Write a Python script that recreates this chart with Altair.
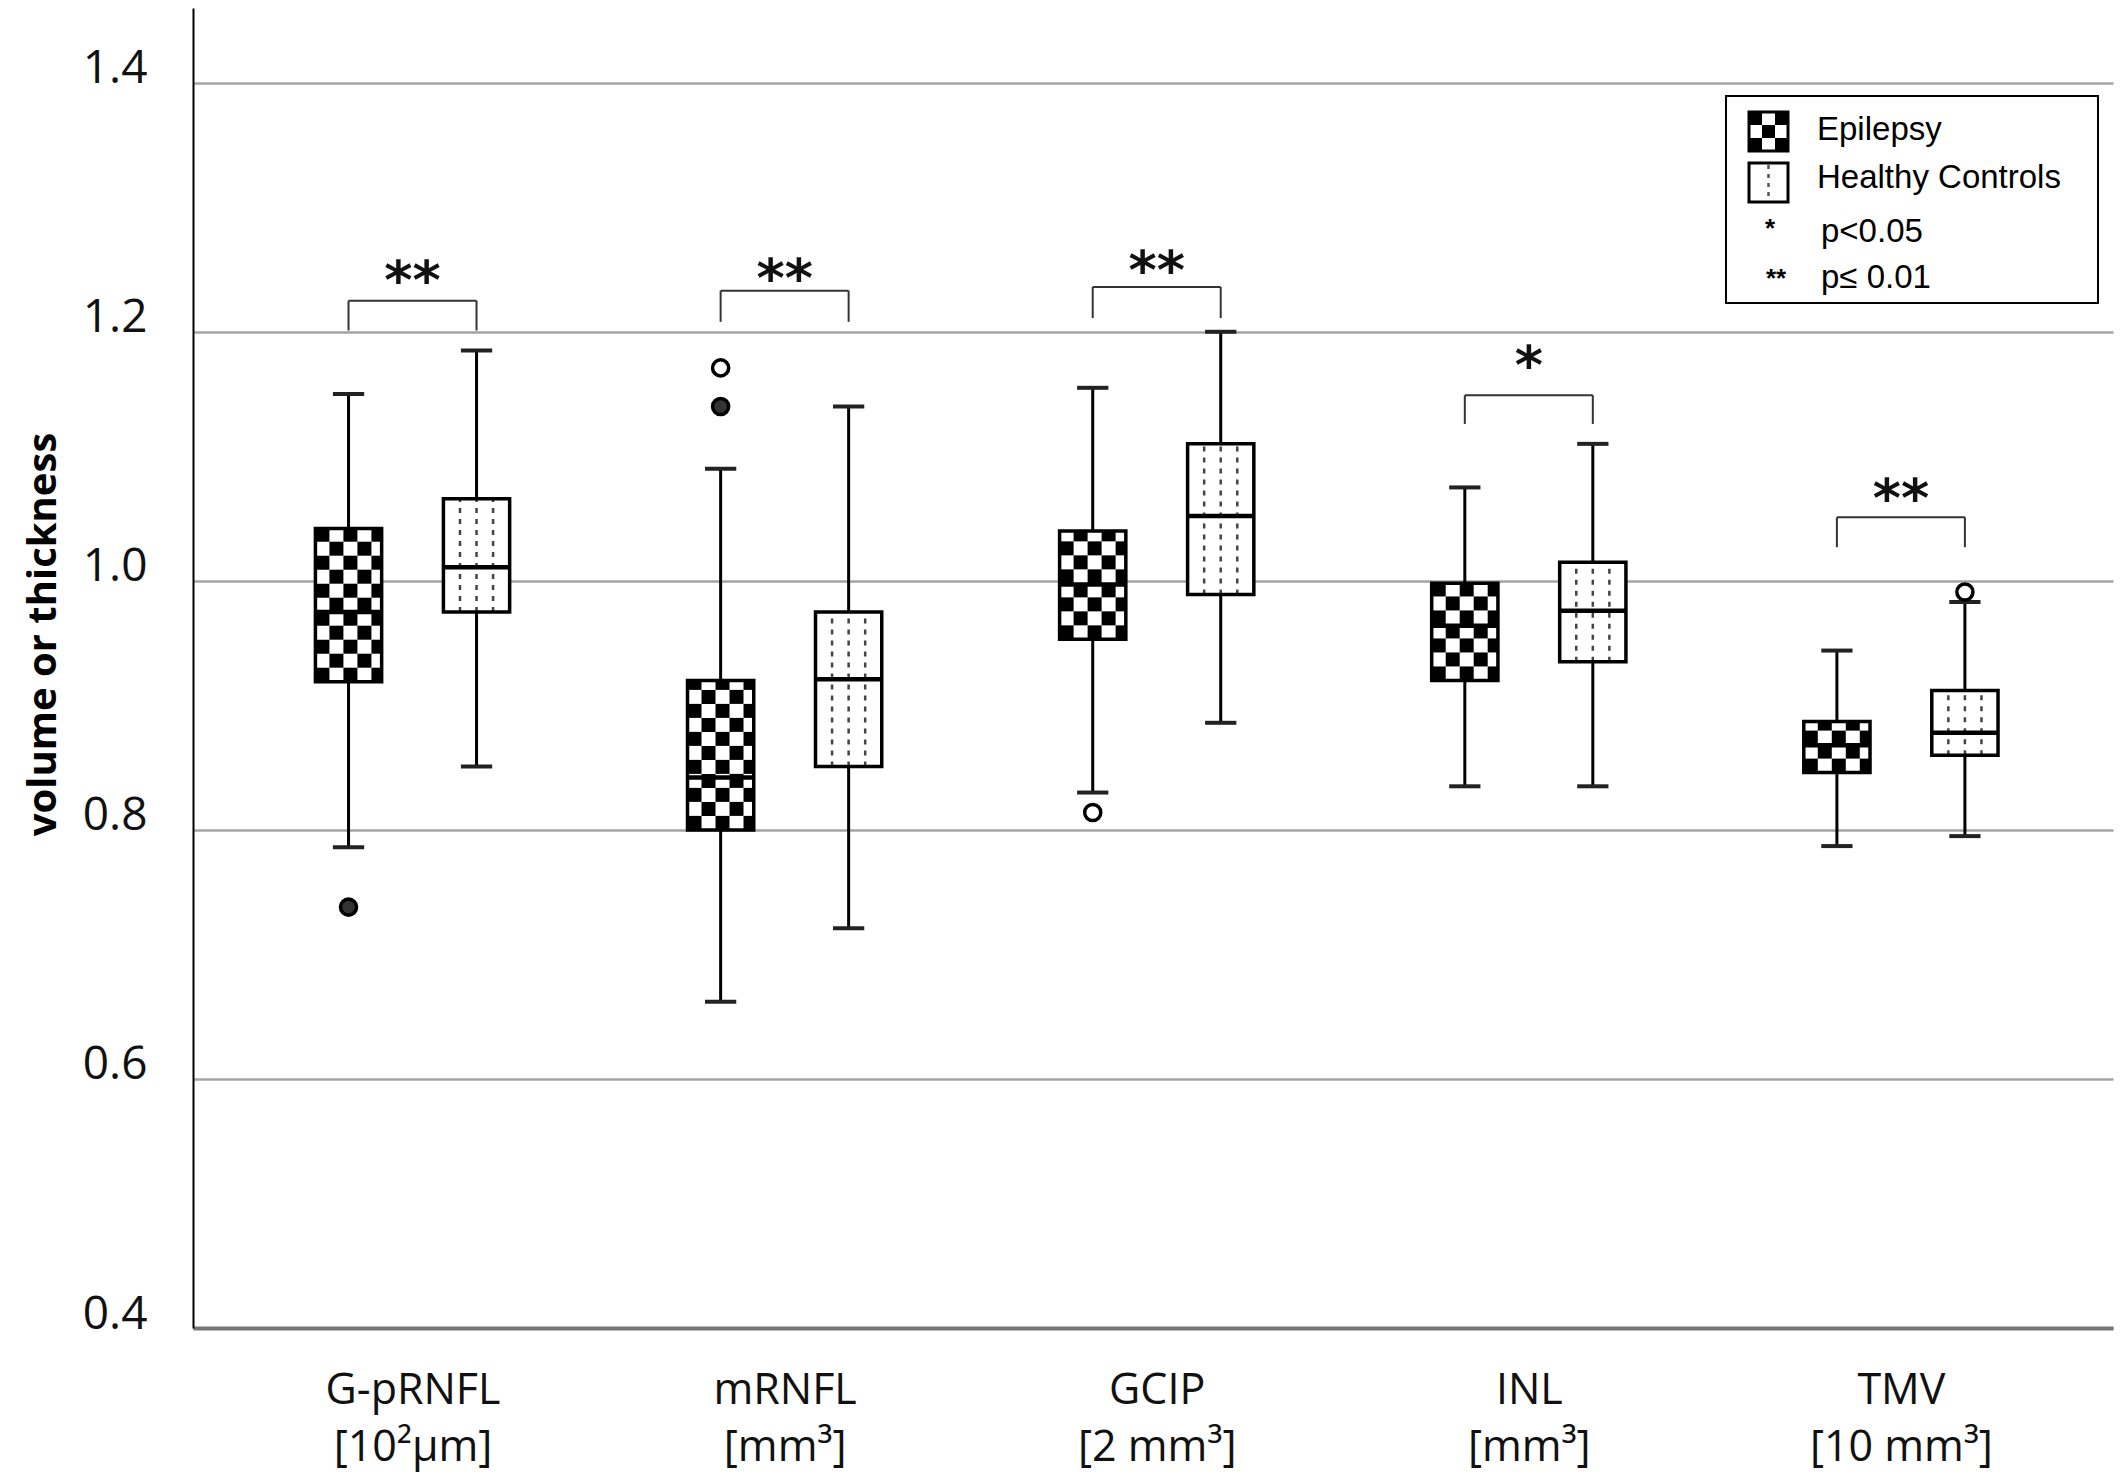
import math
import altair as alt
import pandas as pd

# ---------------- data ----------------
categories = ["G-pRNFL", "mRNFL", "GCIP", "INL", "TMV"]
unit_labels = ["[10²μm]", "[mm³]", "[2 mm³]", "[mm³]", "[10 mm³]"]

epi_low = [0.786, 0.662, 0.830, 0.835, 0.787]
epi_q1 = [0.919, 0.800, 0.953, 0.920, 0.846]
epi_med = [0.975, 0.842, 0.997, 0.964, 0.868]
epi_q3 = [1.042, 0.920, 1.040, 0.998, 0.887]
epi_high = [1.150, 1.090, 1.155, 1.075, 0.944]

hc_low = [0.851, 0.721, 0.886, 0.835, 0.795]
hc_q1 = [0.975, 0.851, 0.989, 0.935, 0.860]
hc_med = [1.011, 0.921, 1.052, 0.976, 0.878]
hc_q3 = [1.066, 0.975, 1.110, 1.015, 0.912]
hc_high = [1.185, 1.140, 1.200, 1.110, 0.983]

outlier_category = ["G-pRNFL", "mRNFL", "mRNFL", "GCIP", "TMV"]
outlier_group = ["Epilepsy", "Epilepsy", "Epilepsy", "Epilepsy", "Healthy Controls"]
outlier_value = [0.738, 1.171, 1.140, 0.814, 0.991]
outlier_style = ["filled", "open", "filled", "open", "open"]

sig_marks = ["**", "**", "**", "*", "**"]
bracket_foot = [1.201, 1.208, 1.211, 1.126, 1.027]
bracket_top = [1.225, 1.233, 1.236, 1.149, 1.051]
sig_y = [1.252, 1.254, 1.260, 1.184, 1.077]

legend_entries = ["Epilepsy", "Healthy Controls"]
legend_sig_symbols = ["*", "**"]
legend_sig_texts = ["p<0.05", "p≤ 0.01"]

# ---------------- layout ----------------
W, H = 1920, 1320
X_DOMAIN = [-0.59, 4.57]
Y_DOMAIN = [0.4, 1.46]
HALF_W = 0.089
GROUP_OFF = 0.172
CAP_HALF = 0.042
X_PER_PX = (X_DOMAIN[1] - X_DOMAIN[0]) / W
Y_PER_PX = (Y_DOMAIN[1] - Y_DOMAIN[0]) / H
CELL_PX = 14
CELL_W = CELL_PX * X_PER_PX
CELL_H = CELL_PX * Y_PER_PX


def px2x(px):
    return X_DOMAIN[0] + px * X_PER_PX


def py2y(py):
    return Y_DOMAIN[1] - py * Y_PER_PX


xs = alt.Scale(domain=X_DOMAIN, nice=False, zero=False)
ys = alt.Scale(domain=Y_DOMAIN, nice=False, zero=False)

# ---------------- axes ----------------
label_expr = "[" + ",".join("['%s','%s']" % (c, u) for c, u in zip(categories, unit_labels)) + "][round(datum.value)]"
x_axis = alt.Axis(values=[0, 1, 2, 3, 4], labelExpr=label_expr, grid=False, ticks=False,
                  domainColor="#777777", domainWidth=4, labelFont="Open Sans",
                  labelFontSize=43, labelColor="#111111", labelPadding=41, labelBaseline="top",
                  labelLineHeight=57, labelFlush=False, labelOverlap=False, labelLimit=0,
                  title="")
y_axis = alt.Axis(values=[0.4, 0.6, 0.8, 1.0, 1.2, 1.4], format=".1f", grid=True,
                  gridColor="#a4a4a4", gridWidth=2.5, ticks=False, domainColor="black",
                  domainWidth=2, labelFont="Open Sans", labelFontSize=46,
                  labelColor="#111111", labelPadding=46, labelFlush=False,
                  labelBaseline="alphabetic",
                  title="volume or thickness",
                  titleFont="Open Sans", titleFontSize=40, titleFontWeight="bold",
                  titleColor="black", titleX=-150, titleY=626, titleBaseline="middle",
                  titleAlign="center")


def X(field):
    return alt.X(field, scale=xs, axis=x_axis)


def Y(field):
    return alt.Y(field, scale=ys, axis=y_axis)


# ---------------- derived tables ----------------
idx = {c: i for i, c in enumerate(categories)}
rows = []
for i, c in enumerate(categories):
    for g, off, lo, a, m, b, hi in [
        ("Epilepsy", -GROUP_OFF, epi_low[i], epi_q1[i], epi_med[i], epi_q3[i], epi_high[i]),
        ("Healthy Controls", GROUP_OFF, hc_low[i], hc_q1[i], hc_med[i], hc_q3[i], hc_high[i]),
    ]:
        xc = i + off
        rows.append(dict(category=c, group=g, xc=xc, xl=xc - HALF_W, xr=xc + HALF_W,
                         capl=xc - CAP_HALF, capr=xc + CAP_HALF,
                         low=lo, q1=a, med=m, q3=b, high=hi))
box_df = pd.DataFrame(rows)

# checkerboard fill of the epilepsy boxes
cells = []
n_cols = int(math.ceil(2 * HALF_W / CELL_W - 1e-9))
for i, c in enumerate(categories):
    xl = i - GROUP_OFF - HALF_W
    xr = i - GROUP_OFF + HALF_W
    n_rows = int(math.ceil((epi_q3[i] - epi_q1[i]) / CELL_H - 1e-9))
    for r in range(n_rows):
        y0 = epi_q1[i] + r * CELL_H
        y1 = min(y0 + CELL_H, epi_q3[i])
        for k in range(n_cols):
            if (r + k) % 2 == 0:
                cells.append(dict(x=xl + k * CELL_W, x2=min(xl + (k + 1) * CELL_W, xr), y=y0, y2=y1))
cell_df = pd.DataFrame(cells)

# dotted fill of the control boxes
dots = []
for i, c in enumerate(categories):
    xc = i + GROUP_OFF
    for f in (-0.5, 0.0, 0.5):
        dots.append(dict(x=xc + f * HALF_W, y=hc_q1[i], y2=hc_q3[i]))
dot_df = pd.DataFrame(dots)

out_df = pd.DataFrame(dict(
    x=[idx[c] + (-GROUP_OFF if g == "Epilepsy" else GROUP_OFF) for c, g in zip(outlier_category, outlier_group)],
    value=outlier_value, style=outlier_style))

br_df = pd.DataFrame(dict(
    xa=[i - GROUP_OFF for i in range(len(categories))],
    xb=[i + GROUP_OFF for i in range(len(categories))],
    xm=list(range(len(categories))),
    foot=bracket_foot, top=bracket_top, sy=sig_y, label=sig_marks))

base = alt.Chart(box_df)

whisk_hi = base.mark_rule(color="black", strokeWidth=3).encode(x=X("xc:Q"), y=Y("q3:Q"), y2="high:Q")
whisk_lo = base.mark_rule(color="black", strokeWidth=3).encode(x=X("xc:Q"), y=Y("low:Q"), y2="q1:Q")
cap_hi = base.mark_rule(color="#222222", strokeWidth=4).encode(x=X("capl:Q"), x2="capr:Q", y=Y("high:Q"))
cap_lo = base.mark_rule(color="#222222", strokeWidth=4).encode(x=X("capl:Q"), x2="capr:Q", y=Y("low:Q"))
box_fill = base.mark_rect(fill="white").encode(x=X("xl:Q"), x2="xr:Q", y=Y("q1:Q"), y2="q3:Q")
checker = alt.Chart(cell_df).mark_rect(fill="black").encode(x=X("x:Q"), x2="x2:Q", y=Y("y:Q"), y2="y2:Q")
dotted = alt.Chart(dot_df).mark_rule(color="#444444", strokeWidth=2.5, strokeDash=[5, 6]).encode(
    x=X("x:Q"), y=Y("y:Q"), y2="y2:Q")
box_line = base.mark_rect(fill="transparent", stroke="black", strokeWidth=3.5).encode(
    x=X("xl:Q"), x2="xr:Q", y=Y("q1:Q"), y2="q3:Q")
median = base.mark_rule(color="black", strokeWidth=4.5).encode(x=X("xl:Q"), x2="xr:Q", y=Y("med:Q"))
outliers = alt.Chart(out_df).mark_point(shape="circle", size=260, filled=True, opacity=1,
                                         stroke="black", strokeWidth=3.5).encode(
    x=X("x:Q"), y=Y("value:Q"),
    fill=alt.Fill("style:N", scale=alt.Scale(domain=["filled", "open"], range=["#333333", "#ffffff"]),
                  legend=None))

br = alt.Chart(br_df)
br_h = br.mark_rule(color="#333333", strokeWidth=2).encode(x=X("xa:Q"), x2="xb:Q", y=Y("top:Q"))
br_l = br.mark_rule(color="#333333", strokeWidth=2).encode(x=X("xa:Q"), y=Y("foot:Q"), y2="top:Q")
br_r = br.mark_rule(color="#333333", strokeWidth=2).encode(x=X("xb:Q"), y=Y("foot:Q"), y2="top:Q")
stars = br.mark_text(font="DejaVu Sans", fontWeight="bold", fontSize=54, color="#111111",
                     baseline="alphabetic", dy=32).encode(x=X("xm:Q"), y=Y("sy:Q"), text="label:N")

# ---------------- legend (drawn in plot coordinates) ----------------
frame_df = pd.DataFrame([dict(x=px2x(1533), x2=px2x(1905), y=py2y(88), y2=py2y(295))])
leg_frame = alt.Chart(frame_df).mark_rect(fill="white", stroke="black", strokeWidth=2).encode(
    x=X("x:Q"), x2="x2:Q", y=Y("y:Q"), y2="y2:Q")

icon_cells = []
ICON = 13
for r in range(3):
    for k in range(3):
        if (r + k) % 2 == 0:
            icon_cells.append(dict(x=px2x(1556 + k * ICON), x2=px2x(1556 + (k + 1) * ICON),
                                   y=py2y(104 + r * ICON), y2=py2y(104 + (r + 1) * ICON)))
icon_cell_df = pd.DataFrame(icon_cells)
leg_cells = alt.Chart(icon_cell_df).mark_rect(fill="black").encode(
    x=X("x:Q"), x2="x2:Q", y=Y("y:Q"), y2="y2:Q")
icon_frames = pd.DataFrame([
    dict(x=px2x(1556), x2=px2x(1595), y=py2y(104), y2=py2y(143)),
    dict(x=px2x(1556), x2=px2x(1595), y=py2y(155), y2=py2y(194)),
])
leg_icon_frames = alt.Chart(icon_frames).mark_rect(fill="transparent", stroke="black", strokeWidth=3).encode(
    x=X("x:Q"), x2="x2:Q", y=Y("y:Q"), y2="y2:Q")
icon_dots = pd.DataFrame([dict(x=px2x(1575.5), y=py2y(157), y2=py2y(192))])
leg_icon_dots = alt.Chart(icon_dots).mark_rule(color="#555555", strokeWidth=2.5, strokeDash=[4, 5]).encode(
    x=X("x:Q"), y=Y("y:Q"), y2="y2:Q")

leg_text_df = pd.DataFrame(dict(
    label=legend_entries + legend_sig_texts,
    x=[px2x(1624), px2x(1624), px2x(1628), px2x(1628)],
    y=[py2y(122), py2y(170), py2y(224), py2y(270)]))
leg_text = alt.Chart(leg_text_df).mark_text(align="left", baseline="middle", font="Liberation Sans",
                                            fontSize=33, color="black").encode(
    x=X("x:Q"), y=Y("y:Q"), text="label:N")
leg_sym_df = pd.DataFrame(dict(label=legend_sig_symbols,
                               x=[px2x(1577), px2x(1583)], y=[py2y(215), py2y(265)]))
leg_sym = alt.Chart(leg_sym_df).mark_text(align="center", baseline="middle", font="Liberation Sans",
                                          fontWeight="bold", fontSize=26, color="black", dy=6).encode(
    x=X("x:Q"), y=Y("y:Q"), text="label:N")

chart = alt.layer(
    whisk_hi, whisk_lo, cap_hi, cap_lo, box_fill, checker, dotted, box_line, median, outliers,
    br_h, br_l, br_r, stars,
    leg_frame, leg_cells, leg_icon_frames, leg_icon_dots, leg_text, leg_sym,
).properties(
    width=W, height=H,
    autosize=alt.AutoSizeParams(type="none"),
    padding={"left": 185, "top": 0, "right": 4, "bottom": 145},
    background="white",
).configure_view(strokeWidth=0)

chart.save("out.html", embed_options={"renderer": "svg", "actions": False})
